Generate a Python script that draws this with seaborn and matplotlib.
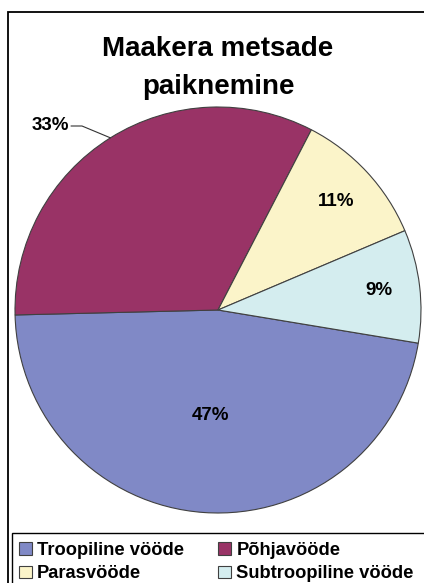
import numpy as np
import matplotlib
matplotlib.use("Agg")
import matplotlib.pyplot as plt
from matplotlib.patches import Rectangle
import seaborn as sns

title = "Maakera metsade\npaiknemine"
zones = ["Troopiline vööde", "Põhjavööde", "Parasvööde", "Subtroopiline vööde"]
shares = [47, 33, 11, 9]
colors = ["#8089C6", "#993366", "#FBF4C9", "#D4EDEF"]
# how far from the centre each percent label sits (fraction of radius)
label_radius = [0.52, None, 0.79, 0.80]

sns.set_theme(style="white")
plt.rcParams["font.family"] = ["Liberation Sans", "DejaVu Sans"]
plt.rcParams["text.color"] = "black"

W, H = 424, 583
fig = plt.figure(figsize=(W / 100, H / 100), dpi=100)
fig.patch.set_facecolor("white")

# outer chart frame (runs off the right/bottom edge as in the reference)
fig.add_artist(Rectangle((8 / W, -0.1), 2, 1 - 12 / H + 0.1, transform=fig.transFigure,
                         fill=False, edgecolor="black", linewidth=1.3))

cx, cy, r = 218, 310, 203
ax = fig.add_axes([(cx - r) / W, (H - cy - r) / H, 2 * r / W, 2 * r / H])
wedges, _ = ax.pie(shares, colors=colors, startangle=-9.4, counterclock=False,
                   wedgeprops=dict(edgecolor="#404040", linewidth=0.8))
ax.set_xlim(-1, 1)
ax.set_ylim(-1, 1)
ax.set_aspect("equal")
ax.axis("off")

for w, val, lr in zip(wedges, shares, label_radius):
    mid = np.deg2rad((w.theta1 + w.theta2) / 2)
    if lr is None:
        # outside label with leader line
        ex, ey = np.cos(mid), np.sin(mid)
        elbow = ((82 - cx) / r, (cy - 126) / r)
        tx = (71 - cx) / r
        ax.plot([ex, elbow[0], tx], [ey, elbow[1], elbow[1]], color="#333333",
                linewidth=0.8, clip_on=False)
        ax.text(tx - 0.01, elbow[1], f"{val}%", ha="right", va="center",
                fontsize=13.5, fontweight="bold", clip_on=False)
    else:
        ax.text(lr * np.cos(mid), lr * np.sin(mid), f"{val}%", ha="center",
                va="center", fontsize=13.5, fontweight="bold")

fig.text(218 / W, 1 - 68 / H, title, ha="center", va="center", fontsize=20,
         fontweight="bold", linespacing=1.65)

# legend box
fig.add_artist(Rectangle((12 / W, -0.1), 2, (H - 533) / H + 0.1, transform=fig.transFigure,
                         fill=False, edgecolor="black", linewidth=1.0))
order = [0, 2, 1, 3]
leg = fig.legend([wedges[i] for i in order], [zones[i] for i in order], ncol=2,
                 loc="upper left", bbox_to_anchor=(6 / W, 1 - 529 / H),
                 frameon=False, prop=dict(size=13.2, weight="bold"),
                 handlelength=0.7, handleheight=0.7, handletextpad=0.3,
                 columnspacing=1.85, labelspacing=0.36, borderpad=0.2)
for t in leg.get_texts():
    t.set_color("black")

fig.savefig("out.png", dpi=100, facecolor="white")
